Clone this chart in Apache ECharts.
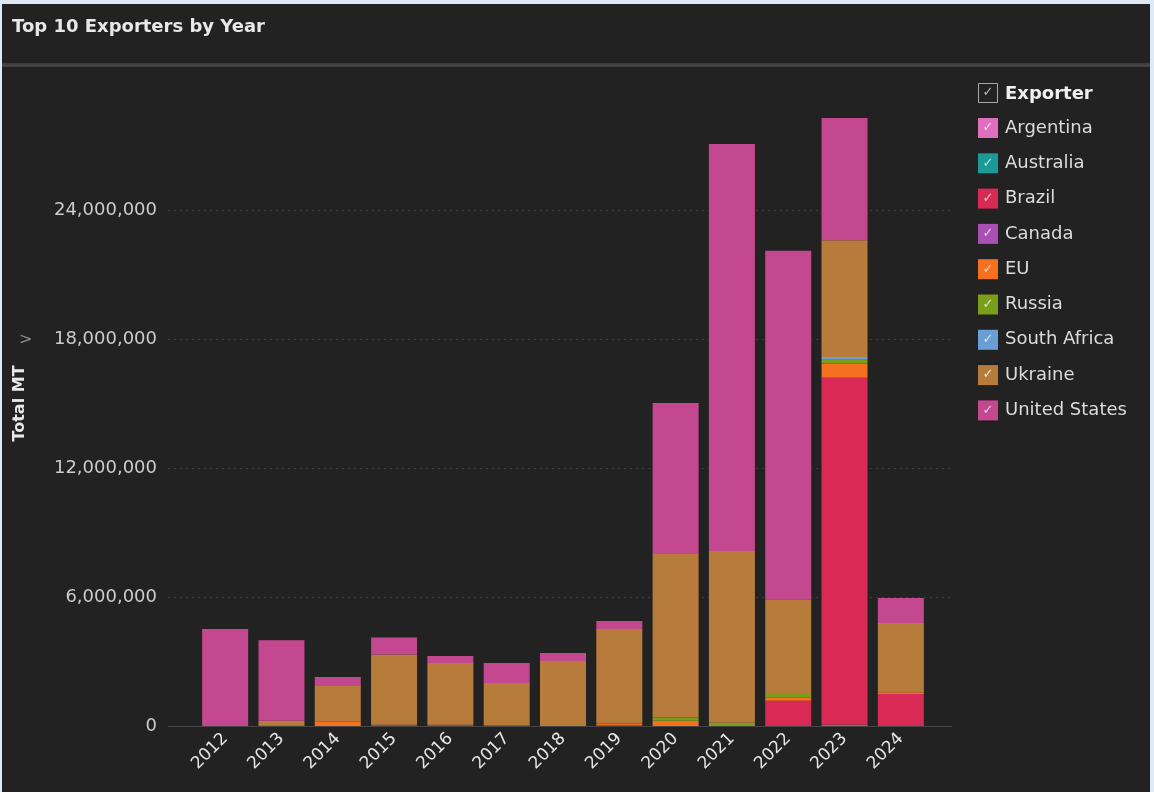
<!DOCTYPE html>
<html>
<head>
<meta charset="utf-8">
<script src="https://cdn.jsdelivr.net/npm/echarts@6/dist/echarts.min.js"></script>
<style>
html,body{margin:0;padding:0;background:#dde9f6;}
#c{width:1154px;height:792px;}
</style>
</head>
<body>
<div id="c"></div>
<script>
const years = ['2012','2013','2014','2015','2016','2017','2018','2019','2020','2021','2022','2023','2024'];
const exporters = ['Argentina','Australia','Brazil','Canada','EU','Russia','South Africa','Ukraine','United States'];
const colors = ['#e070be','#1b9a98','#d92a55','#a94fb5','#f5711f','#7b9e1a','#6a9fd6','#b77c3c','#c4488f'];
const argentina   = [0,0,0,0,0,0,0,0,0,0,0,0,0];
const australia   = [0,0,0,0,0,0,0,0,0,0,0,60000,0];
const brazil      = [0,0,0,60000,60000,20000,0,30000,0,0,1170000,16140000,1490000];
const canada      = [0,0,0,0,0,0,0,0,0,0,0,0,0];
const eu          = [30000,40000,200000,0,0,0,0,80000,250000,0,170000,650000,80000];
const russia      = [0,0,0,0,0,0,0,20000,150000,150000,200000,190000,0];
const southAfrica = [0,0,0,0,0,0,0,0,0,0,0,120000,0];
const ukraine     = [0,200000,1660000,3270000,2870000,1980000,3020000,4380000,7600000,7990000,4360000,5430000,3220000];
const unitedStates= [4480000,3750000,420000,790000,330000,930000,380000,370000,7020000,18930000,16200000,5690000,1160000];
const seriesValues = [argentina,australia,brazil,canada,eu,russia,southAfrica,ukraine,unitedStates];
const yTicks = [0,6000000,12000000,18000000,24000000,30000000];

const FONT = 'DejaVu Sans';
const chart = echarts.init(document.getElementById('c'));

const legendTop = 118, legendStep = 35.3;
const graphics = [
  {type:'rect', z:-10, shape:{x:2,y:4,width:1148,height:788}, style:{fill:'#222222'}, silent:true},
  {type:'rect', z:-9, shape:{x:2,y:63,width:1148,height:4}, style:{fill:'#3b3b3b'}, silent:true},
  {type:'rect', z:-9, shape:{x:2,y:64.5,width:1148,height:2}, style:{fill:'#464646'}, silent:true},
  {type:'text', left:12, top:18, style:{text:'Top 10 Exporters by Year', fill:'#e8e8e8', font:'bold 18px "'+FONT+'"'}},
  {type:'text', left:19, top:332, style:{text:'>', fill:'#8a8a8a', font:'16px "'+FONT+'"'}},
  {type:'rect', shape:{x:978.5,y:83.5,width:19,height:19}, style:{fill:'none', stroke:'#a8a8a8', lineWidth:1}},
  {type:'text', x:988, y:93, style:{text:'✓', fill:'#bbbbbb', font:'13px "'+FONT+'"', align:'center', verticalAlign:'middle'}},
  {type:'text', x:1005, y:94, style:{text:'Exporter', fill:'#f0f0f0', font:'bold 18px "'+FONT+'"', verticalAlign:'middle'}}
];
exporters.forEach((n,i)=>{
  graphics.push({type:'text', z:100, x:988, y:legendTop+10+i*legendStep,
    style:{text:'✓', fill:'rgba(255,255,255,0.75)', font:'13px "'+FONT+'"', align:'center', verticalAlign:'middle'}, silent:true});
});

const series = exporters.map((name,i)=>({
  name:name, type:'bar', stack:'total', xAxisIndex:1, yAxisIndex:1,
  barWidth:46, data:seriesValues[i], itemStyle:{color:colors[i]}
}));

chart.setOption({
  backgroundColor:'#dde9f6',
  animation:false,
  textStyle:{fontFamily:FONT},
  graphic:graphics,
  legend:{
    orient:'vertical', left:978, top:legendTop, padding:0, itemWidth:20, itemHeight:20,
    itemGap:legendStep-20, icon:'rect', data:exporters,
    textStyle:{color:'#dcdcdc', fontSize:18, lineHeight:20, fontFamily:FONT, padding:[0,0,0,2]},
    selectedMode:false
  },
  grid:[
    {left:168, right:202, top:81, bottom:66},
    {left:197, right:225, top:81, bottom:66}
  ],
  xAxis:[
    {type:'value', gridIndex:0, min:0, max:1, axisLine:{show:true, lineStyle:{color:'#454545', width:1}},
     axisTick:{show:false}, axisLabel:{show:false}, splitLine:{show:false}},
    {type:'category', gridIndex:1, data:years, axisLine:{show:false}, axisTick:{show:false},
     axisLabel:{rotate:45, color:'#e6e6e6', fontSize:17, fontFamily:FONT, margin:10, interval:0}}
  ],
  yAxis:[
    {type:'value', gridIndex:0, min:0, max:30000000, interval:6000000,
     name:'Total MT', nameLocation:'middle', nameRotate:90, nameGap:140,
     nameTextStyle:{color:'#e8e8e8', fontSize:16, fontWeight:'bold', fontFamily:FONT},
     axisLine:{show:false}, axisTick:{show:false},
     axisLabel:{color:'#cccccc', fontSize:18, fontFamily:FONT, margin:11, showMaxLabel:false,
       formatter:v=> yTicks.indexOf(v)>=0 ? v.toLocaleString('en-US') : ''},
     splitLine:{show:true, showMinLine:false, showMaxLine:false, lineStyle:{color:'#3e3e3e', type:[2,4], width:1}}},
    {type:'value', gridIndex:1, min:0, max:30000000, show:false, splitLine:{show:false}}
  ],
  series:series
});
</script>
</body>
</html>
